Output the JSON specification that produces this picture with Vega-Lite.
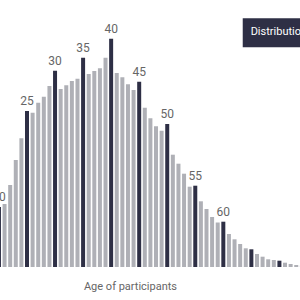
{
  "$schema": "https://vega.github.io/schema/vega-lite/v6.json",
  "width": 300,
  "height": 267,
  "autosize": "none",
  "padding": {"left": 0, "top": 0, "right": 0, "bottom": 33},
  "background": "white",
  "config": {"view": {"stroke": null}, "font": "Roboto"},
  "datasets": {
    "ages": [
      {"age": 20, "count": 600}, {"age": 21, "count": 630}, {"age": 22, "count": 820},
      {"age": 23, "count": 1070}, {"age": 24, "count": 1287}, {"age": 25, "count": 1560},
      {"age": 26, "count": 1543}, {"age": 27, "count": 1643}, {"age": 28, "count": 1703},
      {"age": 29, "count": 1810}, {"age": 30, "count": 1963}, {"age": 31, "count": 1780},
      {"age": 32, "count": 1817}, {"age": 33, "count": 1860}, {"age": 34, "count": 1883},
      {"age": 35, "count": 2093}, {"age": 36, "count": 1930}, {"age": 37, "count": 1960},
      {"age": 38, "count": 1987}, {"age": 39, "count": 2093}, {"age": 40, "count": 2283},
      {"age": 41, "count": 1940}, {"age": 42, "count": 1897}, {"age": 43, "count": 1827},
      {"age": 44, "count": 1770}, {"age": 45, "count": 1853}, {"age": 46, "count": 1593},
      {"age": 47, "count": 1487}, {"age": 48, "count": 1407}, {"age": 49, "count": 1363},
      {"age": 50, "count": 1430}, {"age": 51, "count": 1123}, {"age": 52, "count": 1033},
      {"age": 53, "count": 933}, {"age": 54, "count": 803}, {"age": 55, "count": 813},
      {"age": 56, "count": 657}, {"age": 57, "count": 580}, {"age": 58, "count": 500},
      {"age": 59, "count": 445}, {"age": 60, "count": 453}, {"age": 61, "count": 330},
      {"age": 62, "count": 277}, {"age": 63, "count": 230}, {"age": 64, "count": 187},
      {"age": 65, "count": 177}, {"age": 66, "count": 130}, {"age": 67, "count": 103},
      {"age": 68, "count": 77}, {"age": 69, "count": 70}, {"age": 70, "count": 63},
      {"age": 71, "count": 43}, {"age": 72, "count": 30}, {"age": 73, "count": 20},
      {"age": 74, "count": 15}
    ],
    "note": [{"label": "Distribution of age"}]
  },
  "layer": [
    {
      "data": {"name": "ages"},
      "mark": {"type": "bar", "width": 4, "clip": true},
      "encoding": {
        "x": {
          "field": "age",
          "type": "quantitative",
          "scale": {"domain": [20.186, 73.67], "nice": false, "zero": false, "padding": 0},
          "axis": {
            "title": "Age of participants",
            "labels": false,
            "ticks": false,
            "domain": false,
            "grid": false,
            "titleX": 130,
            "titleY": 22,
            "titleAnchor": null,
            "titleAlign": "center",
            "titleBaseline": "alphabetic",
            "titleFontSize": 11,
            "titleFontWeight": "normal",
            "titleColor": "#666666",
            "titleFont": "Roboto"
          }
        },
        "y": {
          "field": "count",
          "type": "quantitative",
          "scale": {"domain": [0, 2670], "nice": false},
          "axis": null
        },
        "color": {
          "condition": {"test": "datum.age % 5 === 0", "value": "#2e2f45"},
          "value": "#afb0b6"
        }
      }
    },
    {
      "data": {"name": "ages"},
      "transform": [{"filter": "datum.age % 5 === 0 && datum.age <= 60"}],
      "mark": {
        "type": "text",
        "dy": -6,
        "baseline": "alphabetic",
        "align": "center",
        "fontSize": 12,
        "font": "Roboto",
        "color": "#666666"
      },
      "encoding": {
        "x": {"field": "age", "type": "quantitative"},
        "y": {"field": "count", "type": "quantitative"},
        "text": {"field": "age", "type": "quantitative"}
      }
    },
    {
      "data": {"name": "note"},
      "mark": {"type": "rect", "color": "#2e2f45"},
      "encoding": {
        "x": {"datum": 63.46, "type": "quantitative"},
        "x2": {"datum": 80},
        "y": {"datum": 2487, "type": "quantitative"},
        "y2": {"datum": 2197}
      }
    },
    {
      "data": {"name": "note"},
      "mark": {
        "type": "text",
        "align": "left",
        "baseline": "middle",
        "fontSize": 11,
        "font": "Roboto",
        "color": "#ffffff"
      },
      "encoding": {
        "x": {"datum": 64.87, "type": "quantitative"},
        "y": {"datum": 2347, "type": "quantitative"},
        "text": {"field": "label"}
      }
    }
  ]
}
